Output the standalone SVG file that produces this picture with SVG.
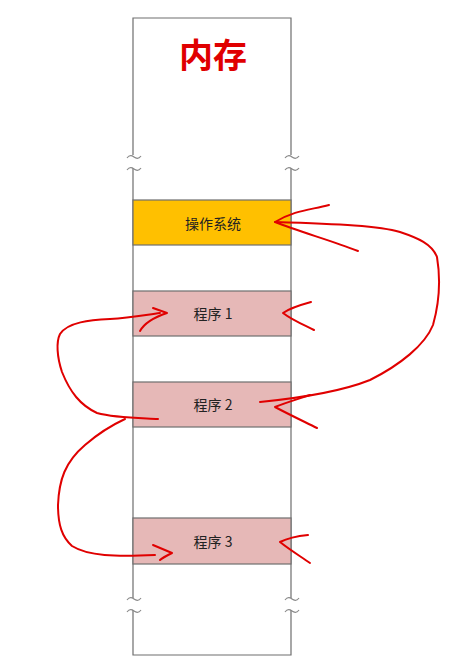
<svg xmlns="http://www.w3.org/2000/svg" width="473" height="669" viewBox="0 0 473 669">
<style>
.frame{fill:none;stroke:#6e6e6e;stroke-width:1.2}
.tilde{fill:none;stroke:#888;stroke-width:1.2}
.os{fill:#FFC000;stroke:#6e6e6e;stroke-width:1.2}
.prog{fill:#E6B8B7;stroke:#6e6e6e;stroke-width:1.2}
.lbl{font-family:"Noto Sans CJK SC","Noto Sans",sans-serif;font-size:14px;fill:#222;text-anchor:middle;dominant-baseline:central}
.title{font-family:"Noto Sans CJK SC",sans-serif;font-size:34px;font-weight:bold;fill:#E00000;text-anchor:middle}
.ink{fill:none;stroke:#E00000;stroke-width:2;stroke-linecap:round;stroke-linejoin:round}
</style>
<rect width="473" height="669" fill="#fff"/>
<g id="memory">
<path class="frame" d="M133,155 V18 H291 V155 M133,168 V598 M291,168 V598 M133,610 V655 H291 V610"/>
<path class="tilde" d="M127,158 q3,-4 7,-1 t7,-1 M127,170 q3,-4 7,-1 t7,-1 M285,158 q3,-4 7,-1 t7,-1 M285,170 q3,-4 7,-1 t7,-1"/>
<path class="tilde" d="M127,600 q3,-4 7,-1 t7,-1 M127,612 q3,-4 7,-1 t7,-1 M285,600 q3,-4 7,-1 t7,-1 M285,612 q3,-4 7,-1 t7,-1"/>
<text class="title" x="213" y="68">内存</text>
</g>
<g id="os"><rect class="os" x="133" y="200" width="158" height="45"/><text class="lbl" x="213" y="223">操作系统</text></g>
<g id="p1"><rect class="prog" x="133" y="291" width="158" height="45"/><text class="lbl" x="213" y="313">程序 1</text></g>
<g id="p2"><rect class="prog" x="133" y="382" width="158" height="45"/><text class="lbl" x="213" y="404">程序 2</text></g>
<g id="p3"><rect class="prog" x="133" y="518" width="158" height="46"/><text class="lbl" x="213" y="541">程序 3</text></g>
<g id="connectors">
<path class="ink" d="M260,402 C300,398 340,392 370,380 C400,365 425,345 433,325 C440,300 440,275 437,257 C432,244 418,238 400,232 C380,226 340,224 275,222"/>
<path class="ink" d="M329,205 C310,210 295,210 275,222 C300,232 330,240 358,251"/>
<path class="ink" d="M310,395 C295,400 285,403 275,407 C290,415 305,422 317,428"/>
<path class="ink" d="M311,302 C300,305 290,308 283,313 C292,320 304,325 314,330"/>
<path class="ink" d="M308,535 C298,536 288,538 280,542 C290,550 300,556 310,563"/>
<path class="ink" d="M158,419 C140,418 115,418 97,413 C80,405 70,392 62,372 C57,357 56,342 60,334 C68,322 90,320 110,319 C130,318 145,315 160,313"/>
<path class="ink" d="M153,308 L167,313 C155,317 145,322 140,331"/>
<path class="ink" d="M125,419 C112,425 100,432 85,445 C65,462 59,480 58,505 C58,525 62,537 72,546 C88,556 115,557 155,555"/>
<path class="ink" d="M153,545 L172,553 C166,556 162,558 160,560"/>
</g>
</svg>
